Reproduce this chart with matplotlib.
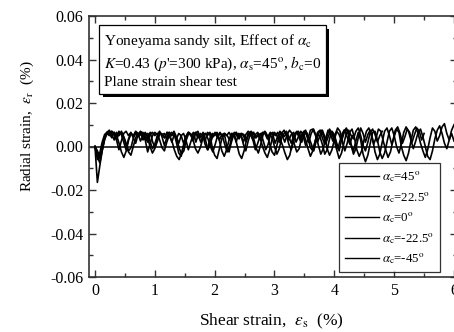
import numpy as np
import matplotlib
matplotlib.use('Agg')
import matplotlib.pyplot as plt
from matplotlib.ticker import MultipleLocator
import matplotlib.patheffects as pe

plt.rcParams['font.family'] = 'Liberation Serif'
plt.rcParams['mathtext.fontset'] = 'stix'
plt.rcParams['axes.unicode_minus'] = False

# radial strain readings, in units of 0.001 %, sampled evenly from 0 to X_END
LABELS = ['45', '22.5', '0', '-22.5', '-45']
X_END = [6.0, 6.0, 5.5, 4.8, 4.3]

eps_r_45 = [0.0, -16.5, -9.0, -2.0, 3.5, 6.5, 5.5, 7.0, 6.0, 3.0,
            -1.5, 2.5, 6.0, 7.0, 5.0, 6.5, 4.0, 1.5, 5.5, 7.0,
            6.0, 3.0, -2.5, 1.0, 5.0, 6.5, 5.5, 7.0, 4.5, 0.5,
            4.0, 6.5, 5.0, 6.0, 2.0, -3.0, -4.5, 0.0, 4.5, 6.5,
            5.5, 2.5, 6.0, 7.0, 4.0, 5.5, 1.0, -1.5, 3.5, 6.0,
            5.0, 6.5, 3.0, 5.5, 6.0, 0.5, -2.5, 2.0, 5.5, 6.5,
            4.5, 6.0, 5.0, 2.5, 6.0, 5.5, 3.0, -1.5, 1.5, 5.0,
            6.5, 6.0, 3.5, 6.0, 4.0, 0.0, -3.5, -1.0, 4.0, 6.0,
            7.0, 4.5, 1.5, 5.0, 6.5, 5.0, 2.0, 6.5, 7.5, 4.0,
            -0.5, -2.0, 2.5, 6.0, 4.5, 1.0, -3.5, -1.5, 3.5, 7.0,
            5.5, 1.5, -2.0, 3.0, 7.5, 8.0, 5.0, 0.5, -3.5, -1.0,
            4.0, 8.5, 6.0, 2.0, 5.5, 7.5, 3.5, -2.5, -6.0, -3.5,
            2.0, 7.0, 8.5, 5.0, 1.0, 4.5, 8.0, 6.5, 0.0, -4.0,
            -6.5, -3.0, 2.5, 7.5, 9.0, 6.0, 1.5, -2.0, -5.0, -1.5,
            4.0, 8.5, 7.0, 2.5, 5.0, 9.0, 10.5, 6.0, 3.0, 7.5, 10.0]

eps_r_22 = [0.0, -4.5, -7.5, -2.0, 4.0, 6.5, 7.5, 5.0, 6.5, 4.0,
            7.0, 5.5, 2.0, -1.5, 3.5, 6.0, 5.0, 7.0, 6.0, 2.5,
            5.0, 6.5, 4.0, 0.0, -3.0, -1.0, 4.5, 6.5, 5.5, 6.0,
            3.5, 6.5, 5.0, 7.0, 4.5, 1.5, 5.0, 6.0, 3.0, -1.5,
            2.0, 5.5, 6.5, 4.0, 6.0, 5.0, 2.5, 6.5, 5.5, -0.5,
            -4.0, -5.5, -1.0, 3.5, 6.0, 5.0, 6.5, 4.5, 5.5, 2.0,
            6.0, 5.5, 1.0, -2.0, 2.5, 6.0, 6.5, 4.0, 5.5, 3.0,
            6.0, 7.0, 5.0, 1.0, -2.5, -4.0, 0.5, 5.0, 6.5, 4.5,
            6.0, 3.0, 5.5, 6.5, 2.0, 4.5, 7.0, 5.0, 0.5, 3.5,
            7.5, 8.0, 5.5, 2.0, 5.0, 7.5, 4.5, -1.0, -4.0, -1.5,
            3.0, 7.0, 5.5, 2.5, 6.0, 8.5, 6.0, 1.0, -2.0, 2.5,
            6.5, 3.0, -3.5, -7.0, -4.0, 1.5, 6.5, 7.0, 3.0, -2.5,
            -5.5, -3.0, 2.0, 7.0, 8.5, 5.0, 0.0, -3.0, 1.0, 6.5,
            9.0, 7.0, 3.0, -1.0, 2.5, 6.5, 8.0, 4.5, 0.0, -4.5,
            -6.0, -2.0, 3.5, 7.5, 9.5, 6.0, 1.5, -1.0, 3.0, 6.0, 2.5]

eps_r_0 = [0.0, -3.0, -5.5, -1.5, 3.0, 6.0, 7.0, 5.5, 3.0, 6.5,
           5.0, 7.0, 4.5, 1.5, -2.0, -0.5, 4.0, 6.0, 5.0, 6.5,
           3.0, 5.5, 6.0, 2.0, -1.0, 1.5, 5.0, 6.5, 5.5, 4.0,
           6.5, 5.0, 2.0, 5.5, 3.5, -0.5, -3.5, -2.0, 3.0, 6.0,
           5.0, 6.5, 2.0, 5.5, 4.5, 6.5, 3.0, -1.5, 1.0, 5.0,
           6.5, 4.0, 6.0, 5.0, 1.0, -2.5, 0.0, 4.5, 6.5, 5.0,
           3.5, 6.0, 5.5, 2.5, 6.0, 7.0, 4.0, -0.5, -3.0, 1.0,
           5.5, 6.5, 4.0, 6.5, 5.5, 1.5, 4.5, 7.0, 5.0, 2.0,
           5.5, 7.5, 6.0, 1.0, -2.5, -1.0, 4.0, 7.0, 5.5, 2.0,
           6.0, 8.0, 5.0, 0.5, -3.5, -1.0, 3.5, 7.5, 6.0, 2.5,
           5.5, 8.5, 7.0, 2.0, -2.0, 1.5, 6.5, 8.0, 4.0, -1.5,
           -4.5, -2.0, 3.0, 7.0, 8.5, 5.5, 1.0, 4.0, 8.0, 7.0,
           2.5, -1.5, -5.0, -2.5, 2.5, 7.5, 9.0, 6.0, 1.5, 4.5,
           8.0, 6.5, 2.0, 5.5, 8.5, 7.0, 3.0, 6.0]

eps_r_m22 = [0.0, -2.0, -4.5, 0.5, 4.5, 6.0, 5.0, 7.0, 5.5, 3.0,
             6.0, 6.5, 4.0, 0.5, -2.5, -4.0, 0.0, 4.0, 6.0, 5.5,
             6.5, 4.5, 2.0, 5.5, 6.5, 5.0, 6.0, 3.0, -0.5, -2.0,
             2.0, 5.0, 6.5, 5.5, 3.5, 6.0, 5.0, 1.5, 4.5, 6.5,
             5.5, 3.0, -1.0, -3.0, -0.5, 3.5, 6.0, 5.0, 6.5, 4.0,
             5.5, 6.0, 2.5, -2.0, -4.5, -1.5, 3.0, 6.0, 5.5, 6.5,
             4.0, 5.0, 2.0, 5.5, 7.0, 6.0, 3.0, 5.5, 6.5, 4.0,
             0.0, -3.0, -5.0, -1.5, 3.5, 6.5, 5.0, 2.0, 6.0, 7.5,
             5.0, 1.0, -1.5, 2.5, 6.0, 7.0, 4.5, 6.5, 3.0, -1.0,
             -4.5, -2.0, 2.5, 6.5, 7.5, 4.0, 1.0, 5.0, 8.0, 6.0,
             2.5, -1.5, -5.5, -3.0, 1.5, 6.0, 7.5, 5.0, 3.5, 7.0,
             8.5, 5.0, 0.5, -2.0, 2.0, 6.5, 8.0, 5.5, 2.0, 5.0,
             7.0]

eps_r_m45 = [0.0, -6.0, -3.0, 2.0, 5.5, 6.5, 6.0, 4.0, 6.5, 5.0,
             1.5, -2.5, -5.0, -2.0, 3.0, 6.0, 5.0, 6.5, 4.5, 5.5,
             6.0, 3.0, 5.0, 6.5, 2.0, -0.5, 2.5, 6.0, 5.5, 4.0,
             6.5, 5.0, 2.5, -1.5, -4.5, -6.0, -3.0, 1.5, 5.0, 6.5,
             5.5, 4.0, 6.5, 5.0, 2.0, 5.5, 6.0, 3.5, 0.0, -2.5,
             1.0, 5.0, 6.5, 4.5, 6.0, 5.0, 3.0, 6.0, 5.5, 1.0,
             -3.5, -5.5, -2.0, 3.0, 6.0, 5.0, 6.5, 4.0, 5.5, 6.0,
             2.5, -1.5, 1.0, 5.5, 6.5, 5.0, 6.5, 3.5, 0.5, -3.0,
             -6.0, -4.0, 1.0, 5.5, 7.0, 5.0, 2.0, 5.5, 6.5, 4.0,
             1.0, -2.0, 2.5, 6.0, 7.5, 5.0, 1.5, 4.5, 7.0, 6.0,
             2.5, -1.0, 3.0, 6.5, 7.0, 4.0, 1.0, 5.0]

SERIES = [eps_r_45, eps_r_22, eps_r_0, eps_r_m22, eps_r_m45]

fig = plt.figure(figsize=(4.54, 3.32), dpi=100)
# right edge of the original figure is cropped through the right spine
ax = fig.add_axes([89 / 454, 1 - 277 / 332, 368 / 454, 261 / 332])

ax.axhline(0, color='black', lw=1.1, zorder=1)

for vals, end, lab in zip(SERIES, X_END, LABELS):
    x = np.linspace(0, end, len(vals))
    ax.plot(x, np.array(vals) * 1e-3, color='black', lw=1.2,
            label=r'$\alpha_{\rm c}$=' + lab + r'$^{\rm o}$')

ax.set_xlim(-0.1, 6.05)
ax.set_ylim(-0.06, 0.06)
ax.xaxis.set_major_locator(MultipleLocator(1))
ax.xaxis.set_minor_locator(MultipleLocator(0.5))
ax.yaxis.set_major_locator(MultipleLocator(0.02))
ax.yaxis.set_minor_locator(MultipleLocator(0.01))
ax.yaxis.set_major_formatter(plt.FormatStrFormatter('%.2f'))
ax.tick_params(which='both', direction='in', top=True, right=True,
               labelsize=11.5, width=1.0, color='#333333')
ax.tick_params(which='major', length=5, pad=4)
ax.tick_params(which='minor', length=3)
for s in ax.spines.values():
    s.set_linewidth(1.2)
    s.set_color('#333333')

ax.set_xlabel(r'Shear strain,  $\varepsilon_{\rm s}$  (%)', fontsize=12.5)
ax.set_ylabel(r'Radial strain,  $\varepsilon_{\rm r}$  (%)', fontsize=11)
ax.xaxis.set_label_coords(0.495, -0.135)
ax.yaxis.set_label_coords(-0.145, 0.578)

info = ('Yoneyama sandy silt, Effect of $\\alpha_{\\rm c}$\n'
        '$K$=0.43 ($p$\'=300 kPa), $\\alpha_{\\rm s}$=45$^{\\rm o}$, $b_{\\rm c}$=0\n'
        'Plane strain shear test')
t = ax.text(0.04, 0.94, info, transform=ax.transAxes, fontsize=11,
            va='top', ha='left', linespacing=1.35,
            bbox=dict(boxstyle='square,pad=0.3', fc='white', ec='black', lw=0.9))
t.get_bbox_patch().set_path_effects([
    pe.SimplePatchShadow(offset=(2.5, -2.5), shadow_rgbFace='black', alpha=1.0),
    pe.Normal()])

leg = ax.legend(loc='lower right', bbox_to_anchor=(0.955, 0.018), fontsize=9.3,
                frameon=True, fancybox=False, handlelength=2.6,
                labelspacing=0.45, borderpad=0.45, handletextpad=0.3,
                borderaxespad=0.0)
leg.get_frame().set_edgecolor('black')
leg.get_frame().set_linewidth(0.9)
for h in leg.get_lines():
    h.set_linewidth(1.0)

fig.savefig('out.png', dpi=100)
